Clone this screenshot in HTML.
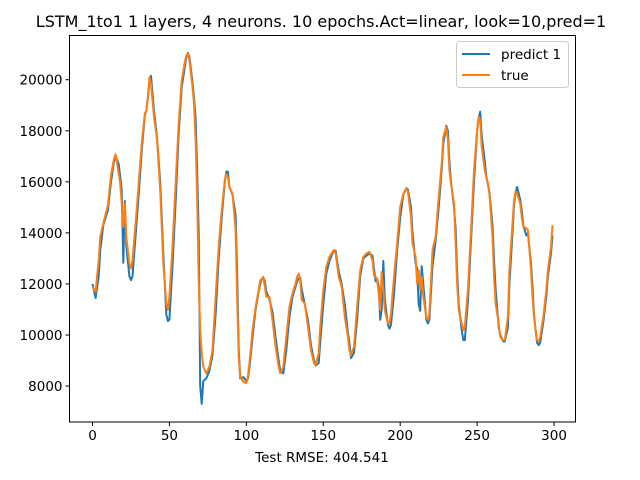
<!DOCTYPE html>
<html><head><meta charset="utf-8"><style>
body{margin:0;background:#fff;}
svg{display:block;font-family:"DejaVu Sans","Liberation Sans",sans-serif;}
</style></head><body>
<svg id="chart" width="640" height="480" viewBox="0 0 640 480">
<rect x="0" y="0" width="640" height="480" fill="#fff"/>
<text x="321" y="27" text-anchor="middle" font-size="16" fill="#000">LSTM_1to1 1 layers, 4 neurons. 10 epochs.Act=linear, look=10,pred=1</text>
<g id="xticks"></g>
<g id="yticks"></g>
<g id="series"></g>
<rect x="69.5" y="35.5" width="506" height="386.5" fill="none" stroke="#000" stroke-width="1"/>
<text x="322" y="462" text-anchor="middle" font-size="13.5" fill="#000">Test RMSE: 404.541</text>
<g>
<rect x="456.5" y="41.5" width="112" height="46" rx="3" fill="#fff" fill-opacity="0.8" stroke="#ccc"/>
<g>
<line x1="462" y1="54" x2="490" y2="54" stroke="#1f77b4" stroke-width="2"/>
<text x="501" y="59" font-size="13.5" fill="#000">predict 1</text></g>
<g>
<line x1="462" y1="75" x2="490" y2="75" stroke="#ff7f0e" stroke-width="2"/>
<text x="501" y="80" font-size="13.5" fill="#000">true</text></g>
</g>
</svg>
<script>
const xValues=[0,2,4,5,7,10,12,14,15,17,18,19,20,21,22,24,25,26,28,30,32,34,35,36,37,38,40,42,44,46,48,49,50,52,54,56,58,60,61,62,63,65,66,67,68,69,70,71,72,74,76,78,80,82,84,86,87,88,89,91,93,94,95,96,98,100,101,102,104,106,108,109,110,111,112,113,115,117,119,121,122,124,126,128,130,132,133,134,135,136,138,140,142,144,145,147,148,150,152,154,156,157,158,160,162,164,166,167,168,170,172,174,176,178,180,182,183,184,185,186,187,188,189,190,192,193,194,196,198,200,202,204,205,207,208,210,211,212,213,214,215,217,218,219,221,223,225,227,228,230,231,232,233,235,236,237,238,240,241,242,244,246,248,250,251,252,253,255,256,257,258,260,261,262,264,265,267,268,270,271,273,274,275,276,278,279,280,282,283,285,286,287,288,289,290,291,293,295,296,298,299];
const trueValues=[11890,11690,12930,13840,14370,15080,16260,16910,17080,16320,15930,15150,14230,15150,13840,12800,12600,12930,14370,15930,17500,18670,18800,19320,20100,19840,18540,17630,15670,12800,11240,10980,11500,13460,15930,18280,19970,20690,20950,21020,20760,19710,19060,17630,15410,12150,10190,9280,8760,8500,8760,9410,11500,13460,14890,16060,16320,16190,15800,15540,14110,11500,9150,8370,8170,8110,8370,8890,10190,11100,11760,12150,12150,12280,11890,11500,11500,10580,9540,8760,8500,8760,9930,11100,11630,12020,12280,12410,12150,11370,11240,10320,9410,8890,8820,9280,10320,11760,12670,13060,13260,13330,13190,12280,11890,10710,9930,9410,9210,9540,11100,12540,13060,13190,13260,12930,12340,12280,12150,11630,10980,12470,11760,10980,10450,10450,10840,12280,13590,15020,15540,15740,15610,14630,13590,13060,12020,12540,11760,12280,11500,10710,10580,10840,13330,13850,15410,16710,17760,18150,17630,16450,15930,15150,13590,12020,10980,10450,10190,10320,11760,14110,16450,18020,18540,18410,17370,16450,16190,15930,15540,13850,12280,11240,10450,9930,9800,9800,10710,12540,14370,15280,15610,15540,15150,14630,14240,14180,14110,12540,11500,10710,10190,9800,9740,9930,10710,11760,12540,13460,14300];
const predValues=[12000,11450,12300,13300,14300,14900,16000,16800,17000,16700,16200,15700,12830,15250,13500,12300,12150,12300,13900,15500,17200,18600,18800,19300,19900,20150,18800,17700,16000,13200,10800,10550,10600,12700,15200,17900,19700,20500,20900,21050,20900,19900,19300,18500,16500,14000,8000,7300,8200,8300,8600,9200,10800,13000,14600,16000,16400,16400,15800,15500,14700,12500,9500,8300,8350,8200,8300,8700,9900,11000,11700,12000,12200,12250,12100,11700,11400,10900,9900,9000,8600,8500,9400,10700,11500,11900,12100,12200,12250,11800,11200,10600,9600,9000,8800,8900,9700,11200,12400,12900,13200,13300,13300,12500,12000,11200,10100,9700,9100,9300,10600,12300,13000,13100,13200,13100,12600,12100,12200,11900,10600,11000,12900,11400,10400,10250,10400,11600,13300,14600,15500,15750,15700,15000,14000,12800,12600,11200,10950,12700,12000,10600,10450,10600,12700,13700,15000,16500,17500,18200,18000,16800,16000,15000,14200,12500,11200,10200,9800,9800,11300,13700,16000,18000,18500,18750,17800,16800,16200,15900,15600,14300,13000,11800,10300,10000,9750,9750,10300,12000,14000,15100,15600,15800,15300,14900,14300,13900,14000,12800,11900,10800,10200,9700,9600,9700,10500,11500,12300,13200,13900];
const xTicks=[0,50,100,150,200,250,300];
const yTicks=[8000,10000,12000,14000,16000,18000,20000];
const X0=-14.95,X1=313.95,Y0=6592,Y1=21733;
const L=69.5,R=575.5,T=35.5,B=422;
const NS='http://www.w3.org/2000/svg';
function sx(v){return L+(v-X0)/(X1-X0)*(R-L);}
function sy(v){return B-(v-Y0)/(Y1-Y0)*(B-T);}
function mk(tag,attrs,parent){const e=document.createElementNS(NS,tag);for(const k in attrs)e.setAttribute(k,attrs[k]);parent.appendChild(e);return e;}
const xg=document.getElementById('xticks'),yg=document.getElementById('yticks'),sg=document.getElementById('series');
xTicks.forEach(t=>{
  const g=mk('g',{},xg);
  
  
  mk('line',{x1:sx(t),x2:sx(t),y1:B,y2:B+4,stroke:'#000','stroke-width':1},g);
  const tx=mk('text',{x:sx(t),y:B+18,'text-anchor':'middle','font-size':13.5,fill:'#000'},g);
  tx.textContent=t;
});
yTicks.forEach(t=>{
  const g=mk('g',{},yg);
  
  
  mk('line',{x1:L-4,x2:L,y1:sy(t),y2:sy(t),stroke:'#000','stroke-width':1},g);
  const tx=mk('text',{x:L-7,y:sy(t)+5,'text-anchor':'end','font-size':13.5,fill:'#000'},g);
  tx.textContent=t;
});
function pts(vals){return xValues.map((x,i)=>sx(x).toFixed(1)+','+sy(vals[i]).toFixed(1)).join(' ');}
const p1=mk('polyline',{points:pts(predValues),fill:'none',stroke:'#1f77b4','stroke-width':2,'stroke-linejoin':'round'},sg);


const p2=mk('polyline',{points:pts(trueValues),fill:'none',stroke:'#ff7f0e','stroke-width':2,'stroke-linejoin':'round'},sg);


</script>
</body></html>
